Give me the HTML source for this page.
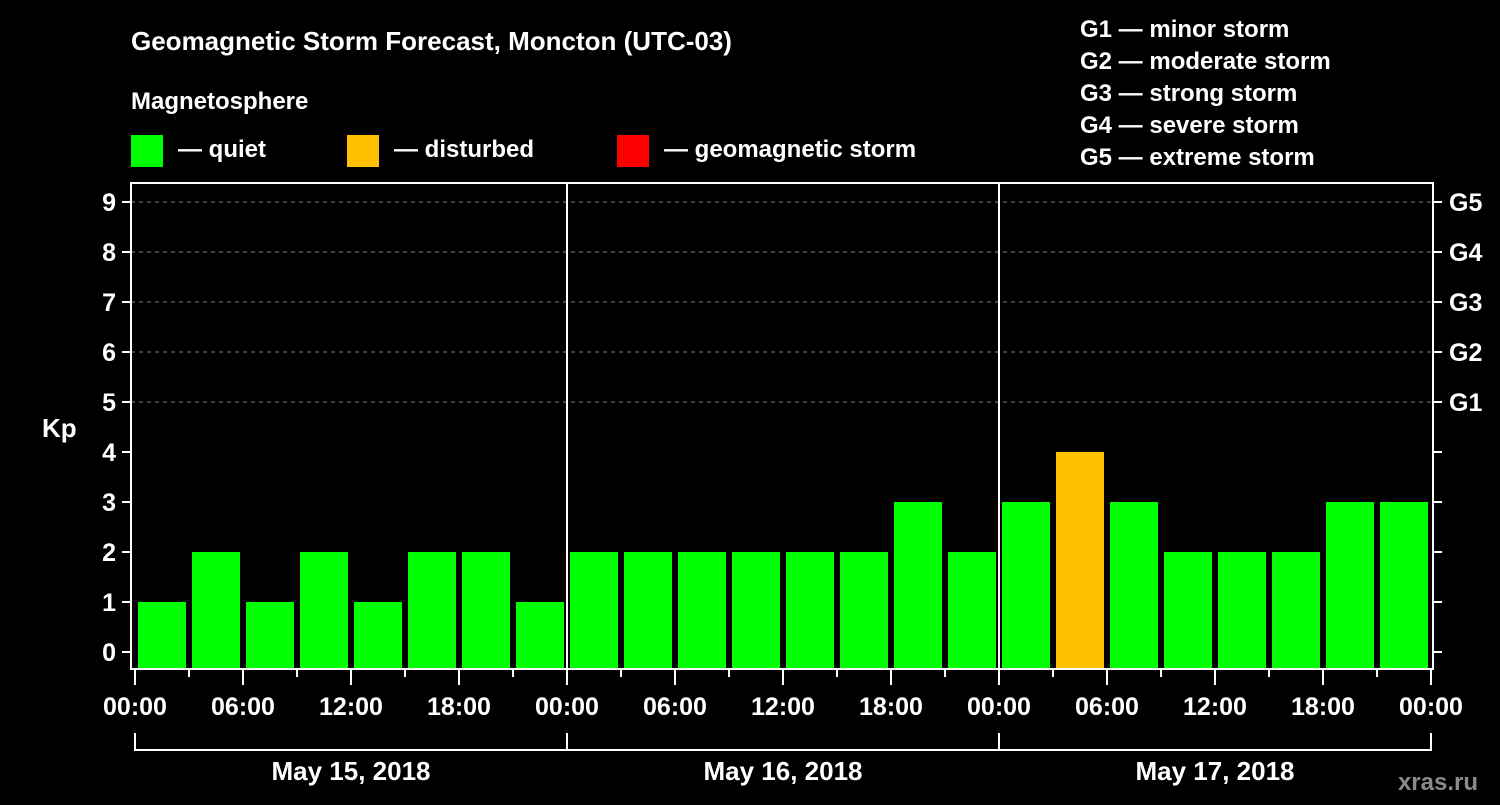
<!DOCTYPE html>
<html><head><meta charset="utf-8"><style>
body{margin:0;background:#000;width:1500px;height:800px;overflow:hidden}
svg{font-family:"Liberation Sans",Arial,sans-serif;font-weight:bold;fill:#fff}
</style></head><body>
<svg id="c" width="1500" height="800">
<text x="131" y="50" font-size="26">Geomagnetic Storm Forecast, Moncton (UTC-03)</text>
<text x="131" y="109" font-size="24">Magnetosphere</text>
<g><rect x="131" y="135" width="32" height="32" fill="#00ff00"/><text x="178" y="157" font-size="24">— quiet</text></g>
<g><rect x="347" y="135" width="32" height="32" fill="#ffc000"/><text x="394" y="157" font-size="24">— disturbed</text></g>
<g><rect x="617" y="135" width="32" height="32" fill="#ff0000"/><text x="664" y="157" font-size="24">— geomagnetic storm</text></g>
<g font-size="24">
<text x="1080" y="37">G1 — minor storm</text><text x="1080" y="69">G2 — moderate storm</text><text x="1080" y="101">G3 — strong storm</text><text x="1080" y="133">G4 — severe storm</text><text x="1080" y="165">G5 — extreme storm</text></g>
<text x="42" y="437" font-size="26">Kp</text>
<text x="1478" y="790" font-size="24" text-anchor="end" fill="#888" style="fill:#8a8a8a">xras.ru</text>
<g id="g"></g>
</svg>
<script>
const values=[1,2,1,2,1,2,2,1, 2,2,2,2,2,2,3,2, 3,4,3,2,2,2,3,3];
const days=["May 15, 2018","May 16, 2018","May 17, 2018"];
const hourLabels=["00:00","06:00","12:00","18:00"];
const gLabels=["G1","G2","G3","G4","G5"];
const NS="http://www.w3.org/2000/svg",g=document.getElementById('g');
const X0=135,DW=432,L=131,R=1433,T=183,B=669;
const y=v=>652-v*50, x=h=>X0+h*DW/24;
function el(t,a,txt){const e=document.createElementNS(NS,t);for(const k in a)e.setAttribute(k,a[k]);if(txt!=null)e.textContent=txt;g.appendChild(e);return e;}
for(let k=5;k<=9;k++){const e=el('line',{x1:L,x2:R,y1:y(k),y2:y(k),stroke:'#888','stroke-dasharray':'4,4'});

}
values.forEach((v,i)=>{const col=v>=5?'#ff0000':v>=4?'#ffc000':'#00ff00';
const r=el('rect',{x:x(i*3)+3,y:y(v),width:48,height:B-y(v),fill:col});

});
for(let d=1;d<3;d++){const e=el('line',{x1:x(d*24),x2:x(d*24),y1:T,y2:B,stroke:'#fff','stroke-width':2});

}
const fr=el('rect',{x:L,y:T,width:R-L,height:B-T,fill:'none',stroke:'#fff','stroke-width':2});


for(let k=0;k<=9;k++){el('line',{x1:122,x2:L,y1:y(k),y2:y(k),stroke:'#fff','stroke-width':2});
el('line',{x1:R,x2:R+9,y1:y(k),y2:y(k),stroke:'#fff','stroke-width':2});
const t=el('text',{x:116,y:y(k)+9,'font-size':25,'text-anchor':'end'},String(k));

}
gLabels.forEach((s,i)=>{const t=el('text',{x:1449,y:y(5+i)+9,'font-size':25},s);

});
for(let h=0;h<=72;h+=3){const maj=h%6==0;el('line',{x1:x(h),x2:x(h),y1:B,y2:B+(maj?16:8),stroke:'#fff','stroke-width':2});
if(maj&&(h%24!=0||true)&&h%6==0){if(h%24==0||true){}}}
for(let h=0;h<=72;h+=6){const lbl=hourLabels[(h%24)/6];
const t=el('text',{x:x(h),y:715,'font-size':25,'text-anchor':'middle'},lbl);

}
el('path',{d:`M${x(0)} 733V750H${x(72)}V733`,fill:'none',stroke:'#fff','stroke-width':2});
for(let d=1;d<3;d++)el('line',{x1:x(d*24),x2:x(d*24),y1:733,y2:750,stroke:'#fff','stroke-width':2});
days.forEach((s,d)=>{const t=el('text',{x:x(d*24+12),y:780,'font-size':26,'text-anchor':'middle'},s);

});
</script>
</body></html>
